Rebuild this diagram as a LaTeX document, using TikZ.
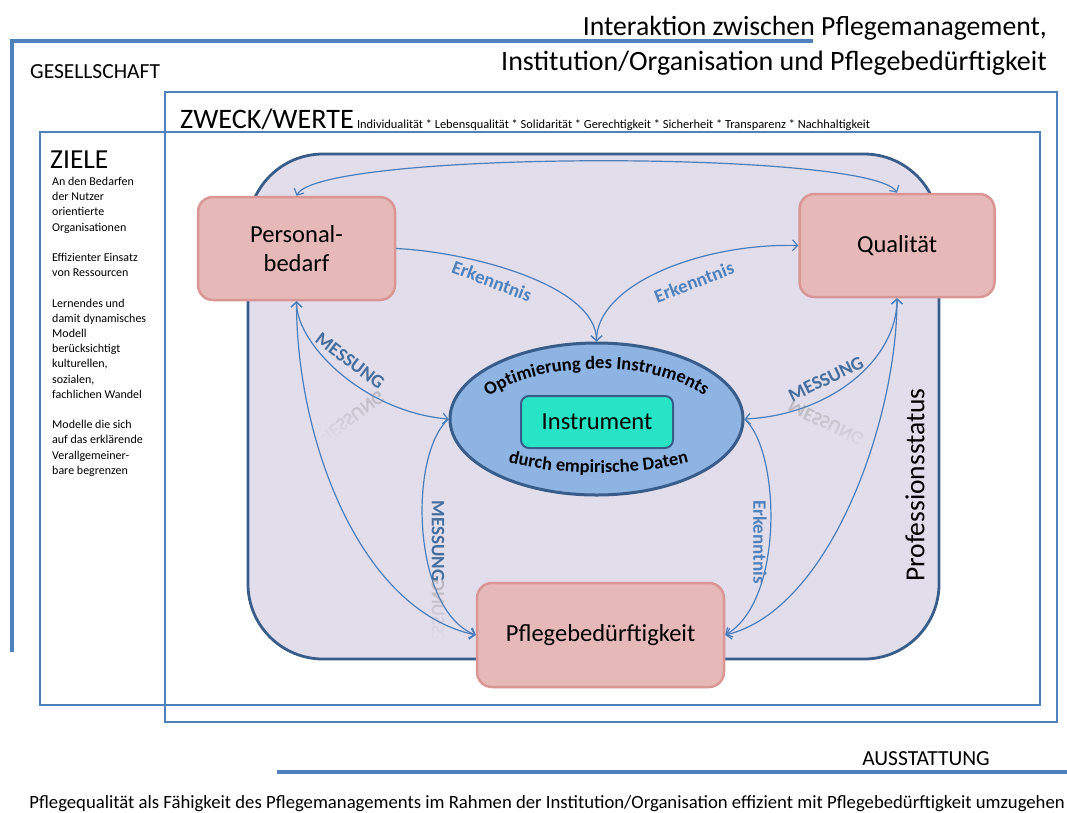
\documentclass[tikz,border=0pt]{standalone}
\usepackage{fontspec}
\setmainfont{Carlito}
\usetikzlibrary{arrows.meta,decorations.text,shapes.geometric,fadings}

\definecolor{frameblue}{HTML}{4F81BD}
\definecolor{darkblue}{HTML}{385D8A}
\definecolor{lavender}{HTML}{E1DDEB}
\definecolor{pinkfill}{HTML}{E6B9B8}
\definecolor{pinkline}{HTML}{D99694}
\definecolor{ellfill}{HTML}{8EB4E3}
\definecolor{turq}{HTML}{27E4C6}
\definecolor{linkblue}{HTML}{4A7EBB}
\definecolor{messblue}{HTML}{456E9F}

\tikzfading[name=mirrorfade, top color=transparent!50, bottom color=transparent!100]

\begin{document}
\begin{tikzpicture}[x=1pt,y=-1pt,
  >={Straight Barb[length=5pt,width=11pt]},
  frame/.style={draw=frameblue, line width=1.8pt},
  bar/.style={draw=frameblue, line width=4pt},
  pinkbox/.style={draw=pinkline, fill=pinkfill, line width=2.5pt, rounded corners=15pt,
    align=center, inner sep=0pt, font=\fontsize{24.5}{29}\selectfont},
  link/.style={draw=linkblue, line width=1.2pt},
  erk/.style={text=frameblue, inner sep=0pt, font=\fontsize{19}{19}\bfseries\selectfont},
  mess/.style={text=messblue, inner sep=0pt, font=\fontsize{19}{19}\bfseries\selectfont},
  refl/.style={text=black!45, inner sep=0pt, font=\fontsize{19}{19}\bfseries\selectfont},
  plain/.style={inner sep=0pt},
]
\useasboundingbox (0,0) rectangle (1067,812);
\fill[white] (0,0) rectangle (1067,812);

% outer frames
\draw[bar] (813,41) -- (12,41) -- (12,652);
\draw[bar] (277,772) -- (1067,772);
\node[frame, minimum width=892, minimum height=630] (zweck) at (611,407) {};
\node[frame, minimum width=1000, minimum height=573] (ziele) at (540,418.5) {};

% headings
\node[plain, anchor=base east, font=\fontsize{27.7}{32}\selectfont] (title1) at (1047,35) {Interaktion zwischen Pflegemanagement,};
\node[plain, anchor=base east, font=\fontsize{28}{32}\selectfont] (title2) at (1047,70) {Institution/Organisation und Pflegebedürftigkeit};
\node[plain, anchor=base west, font=\fontsize{21.5}{24}\selectfont] (ges) at (30,78) {GESELLSCHAFT};
\node[plain, anchor=base west, font=\fontsize{28.2}{30}\selectfont] (zw) at (180,128) {ZWECK/WERTE};
\node[plain, anchor=base west, font=\fontsize{12.4}{14}\selectfont] (werte) at (zw.base east) {\ Individualität * Lebensqualität * Solidarität * Gerechtigkeit * Sicherheit * Transparenz * Nachhaltigkeit};
\node[plain, anchor=base west, font=\fontsize{27.5}{30}\selectfont] (zl) at (50,168) {ZIELE};
\node[plain, anchor=north west, align=left, font=\fontsize{12}{15.2}\selectfont] (zieltext) at (52,177)
  {An den Bedarfen\\der Nutzer\\orientierte\\Organisationen\\[15.2pt]
   Effizienter Einsatz\\von Ressourcen\\[15.2pt]
   Lernendes  und\\damit dynamisches\\Modell\\berücksichtigt\\kulturellen,\\sozialen,\\fachlichen Wandel\\[15.2pt]
   Modelle die sich\\auf das erklärende\\Verallgemeiner-\\bare begrenzen};
\node[plain, anchor=base east, font=\fontsize{21.5}{24}\selectfont] (aus) at (990,765) {AUSSTATTUNG};
\node[plain, anchor=base, font=\fontsize{18.7}{22}\selectfont] (caption) at (547,808) {Pflegequalität als Fähigkeit des Pflegemanagements im Rahmen der Institution/Organisation effizient mit Pflegebedürftigkeit umzugehen};

% profession area
\node[draw=darkblue, fill=lavender, line width=2.8pt, rounded corners=75pt,
  minimum width=691, minimum height=505] (prof) at (593.5,406.5) {};
\node[plain, rotate=90, font=\fontsize{27.5}{30}\selectfont] (pst) at (915,485) {Professionsstatus};

% main nodes
\node[pinkbox, minimum width=197, minimum height=103] (pb) at (296.5,248.5) {Personal-\\bedarf};
\node[pinkbox, minimum width=195, minimum height=103] (q) at (897,245.5) {Qualität};
\node[pinkbox, minimum width=247, minimum height=104] (pf) at (600.5,635) {Pflegebedürftigkeit};
\node[ellipse, draw=darkblue, fill=ellfill, line width=3pt, inner sep=0pt,
  minimum width=293, minimum height=152] (ell) at (596.5,419) {};
\node[draw=darkblue, fill=turq, line width=2pt, rounded corners=8pt, inner sep=0pt,
  minimum width=152, minimum height=52, font=\fontsize{24.5}{29}\selectfont] (inst) at (597,422) {Instrument};

% text bent round the instrument
\path[decorate, decoration={text along path, text align=center,
  text={|\fontsize{18.5}{18.5}\bfseries\selectfont|Optimierung des Instruments}}]
  (483,402) .. controls (530,358) and (664,358) .. (710,401);
\path[decorate, decoration={text along path, text align=center,
  text={|\fontsize{18.4}{18.4}\bfseries\selectfont|durch empirische Daten}}]
  (503,461) .. controls (560,477) and (638,477) .. (694,461);

% connectors
\draw[link, <->] (pb.north) .. controls (320,150) and (872,150) .. (q.north);
\draw[link, ->] (pb.east) .. controls (470,252) and (596.5,285) .. (ell.north);
\draw[link, <->] (ell.north) .. controls (596.5,285) and (700,243) .. (q.west);
\draw[link, <->] (pb.south) .. controls (296.5,345) and (365,412) .. (ell.west);
\draw[link, <->] (pb.south) .. controls (296.5,440) and (360,610) .. (pf.west);
\draw[link, ->] (ell.west) .. controls (408,455) and (412,610) .. (pf.west);
\draw[link, <->] (q.south) .. controls (897,360) and (830,415) .. (ell.east);
\draw[link, <->] (q.south) .. controls (897,420) and (830,610) .. (pf.east);
\draw[link, ->] (ell.east) .. controls (780,450) and (785,600) .. (pf.east);

% connector labels
\node[erk, rotate=-21] (erk1) at (492,281) {Erkenntnis};
\node[erk, rotate=21] (erk2) at (694,282) {Erkenntnis};
\node[erk, rotate=-90] (erk3) at (760,542) {Erkenntnis};
\node[mess, rotate=-37] (mess1) at (350,361) {MESSUNG};
\node[mess, rotate=26] (mess2) at (826,379) {MESSUNG};
\node[mess, rotate=-90] (mess3) at (438,541) {MESSUNG};

% mirrored reflections under the MESSUNG labels
\begin{scope}
  \path[scope fading=mirrorfade] (300,390) rectangle (410,440);
  \node[refl, rotate=37, yscale=-1] (mess1r) at (350,419) {MESSUNG};
\end{scope}
\begin{scope}
  \path[scope fading=mirrorfade] (770,400) rectangle (880,450);
  \node[refl, rotate=-26, yscale=-1] (mess2r) at (826,423) {MESSUNG};
\end{scope}
\begin{scope}
  \path[scope fading=mirrorfade] (420,580) rectangle (456,640);
  \node[refl, rotate=90, yscale=-1] (mess3r) at (438,620) {MESSUNG};
\end{scope}
\end{tikzpicture}
\end{document}
